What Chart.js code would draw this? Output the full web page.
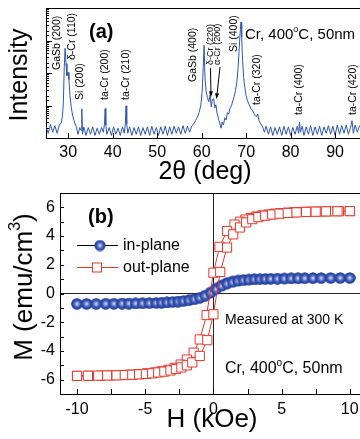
<!DOCTYPE html>
<html lang="en">
<head>
<meta charset="UTF-8">
<title>Cr, 400°C, 50nm - XRD and M-H</title>
<script src="https://cdn.jsdelivr.net/npm/chart.js"></script>
<style>
  body { margin: 0; background: #fff; }
  #wrap { position: relative; width: 360px; height: 439px; overflow: hidden; }
  canvas { position: absolute; left: 0; }
  #xrd { top: 0; }
  #mh { top: 180px; }
</style>
</head>
<body>
<div id="wrap">
  <canvas id="xrd" width="360" height="192"></canvas>
  <canvas id="mh" width="360" height="259"></canvas>
</div>

<script>
// (a) XRD pattern, 2theta (deg) vs counts (log axis)
const xrdAngle = [
  25, 25.5, 26, 26.5, 27, 27.5, 28, 28.4, 28.7, 28.9,
  29.1, 29.3, 29.5, 29.7, 29.95, 30.15, 30.4, 30.7, 31, 31.4,
  31.8, 32.2, 32.6, 32.9, 33.05, 33.2, 33.5, 34, 34.5, 35,
  35.5, 36, 36.5, 37, 37.5, 37.9, 38.15, 38.3, 38.45, 38.7,
  39.2, 39.7, 40.2, 40.7, 41.2, 41.7, 42.2, 42.6, 42.85, 43,
  43.15, 43.4, 43.8, 44.3, 44.8, 45.3, 45.8, 46.3, 46.8, 47.3,
  47.8, 48.3, 48.8, 49.3, 49.8, 50.3, 50.8, 51.3, 51.8, 52.3,
  52.8, 53.3, 53.8, 54.3, 54.8, 55.3, 55.8, 56.3, 56.8, 57.3,
  57.8, 58.2, 58.6, 59, 59.4, 59.8, 60.1, 60.35, 60.55, 60.75,
  61, 61.3, 61.6, 61.9, 62.15, 62.4, 62.7, 62.95, 63.2, 63.5,
  63.8, 64.1, 64.35, 64.6, 64.9, 65.2, 65.5, 65.8, 66.1, 66.4,
  66.7, 67, 67.3, 67.6, 67.9, 68.2, 68.45, 68.7, 68.85, 69,
  69.2, 69.45, 69.7, 70, 70.3, 70.7, 71.1, 71.5, 71.9, 72.3,
  72.6, 72.9, 73.3, 73.7, 74.1, 74.5, 75, 75.5, 76, 76.5,
  77, 77.5, 78, 78.5, 79, 79.5, 80, 80.5, 81, 81.5,
  81.8, 82, 82.2, 82.6, 83, 83.5, 84, 84.5, 85, 85.5,
  86, 86.5, 87, 87.5, 88, 88.5, 89, 89.5, 90, 90.5,
  91, 91.5, 92, 92.5, 93, 93.5, 93.8, 94.1, 94.5, 95,
  95.5
];
const xrdCounts = [
  22, 14, 26, 15, 24, 14, 25, 29, 48, 122,
  1480, 5750, 1970, 836, 1040, 628, 200, 85, 48, 31,
  22, 13, 21, 17, 79, 13, 22, 12, 21, 13,
  22, 12, 20, 13, 21, 15, 27, 80, 25, 13,
  21, 12, 22, 13, 20, 12, 22, 14, 29, 98,
  27, 14, 22, 12, 21, 13, 22, 12, 21, 13,
  22, 12, 23, 13, 21, 12, 22, 13, 23, 12,
  22, 13, 23, 14, 22, 13, 24, 14, 23, 15,
  24, 27, 34, 42, 60, 98, 248, 1480, 7130, 725,
  267, 174, 131, 215, 91, 151, 162, 85, 105, 55,
  39, 27, 20, 31, 25, 42, 36, 60, 55, 85,
  98, 140, 187, 287, 507, 1480, 6170, 22300, 36800, 12600,
  2440, 725, 355, 200, 140, 105, 80, 68, 52, 45,
  55, 34, 27, 22, 15, 23, 13, 22, 12, 21,
  13, 22, 12, 23, 13, 22, 12, 21, 13, 23,
  14, 31, 15, 23, 12, 22, 13, 24, 12, 22,
  13, 23, 12, 22, 14, 24, 13, 23, 12, 25,
  13, 24, 14, 25, 13, 22, 34, 14, 25, 15,
  24
];

// (b) M-H loops, H in kOe, M in emu/cm3 (descending branch, then ascending)
const outPlaneH = [
  10, 9.2, 8.45, 7.8, 7.1, 6.5, 5.95, 5.45, 4.95, 4.5, 4.05, 3.6, 3.15, 2.75, 2.35, 1.95, 1.55, 1.0, 0.45,
  0, -0.5, -1.0, -1.45, -1.95, -2.4, -2.85, -3.3, -3.8, -4.3, -4.85, -5.45, -6.1, -6.8, -7.5, -8.25, -9.1, -10,
  -10, -9.2, -8.45, -7.8, -7.1, -6.5, -5.95, -5.45, -4.95, -4.5, -4.05, -3.6, -3.15, -2.75, -2.35, -1.95, -1.55, -1.0, -0.45,
  0, 0.5, 1.0, 1.45, 1.95, 2.4, 2.85, 3.3, 3.8, 4.3, 4.85, 5.45, 6.1, 6.8, 7.5, 8.25, 9.1, 10
];
const outPlaneM = [
  5.74, 5.73, 5.72, 5.71, 5.7, 5.68, 5.66, 5.63, 5.6, 5.56, 5.5, 5.44, 5.36, 5.26, 5.15, 5.0, 4.8, 4.35, 3.25,
  1.45, -1.5, -3.2, -4.12, -4.6, -4.95, -5.18, -5.32, -5.42, -5.5, -5.56, -5.61, -5.65, -5.68, -5.7, -5.72, -5.73, -5.74,
  -5.74, -5.73, -5.72, -5.71, -5.7, -5.68, -5.66, -5.63, -5.6, -5.56, -5.5, -5.44, -5.36, -5.26, -5.15, -5.0, -4.8, -4.35, -3.25,
  -1.45, 1.5, 3.2, 4.12, 4.6, 4.95, 5.18, 5.32, 5.42, 5.5, 5.56, 5.61, 5.65, 5.68, 5.7, 5.72, 5.73, 5.74
];
const inPlaneH = [
  10, 9.3, 8.6, 7.9, 7.3, 6.7, 6.2, 5.7, 5.2, 4.7, 4.2, 3.8, 3.4, 3.0, 2.6, 2.2, 1.8, 1.4, 1.0, 0.6, 0.2,
  -0.2, -0.6, -1.0, -1.4, -1.8, -2.2, -2.6, -3.0, -3.4, -3.8, -4.2, -4.7, -5.2, -5.7, -6.2, -6.7, -7.3, -7.9, -8.6, -9.3, -10,
  -10, -9.3, -8.6, -7.9, -7.3, -6.7, -6.2, -5.7, -5.2, -4.7, -4.2, -3.8, -3.4, -3.0, -2.6, -2.2, -1.8, -1.4, -1.0, -0.6, -0.2,
  0.2, 0.6, 1.0, 1.4, 1.8, 2.2, 2.6, 3.0, 3.4, 3.8, 4.2, 4.7, 5.2, 5.7, 6.2, 6.7, 7.3, 7.9, 8.6, 9.3, 10
];
const inPlaneM = [
  1.08, 1.08, 1.08, 1.08, 1.07, 1.07, 1.06, 1.06, 1.05, 1.04, 1.03, 1.02, 1.01, 1.0, 0.98, 0.95, 0.91, 0.85, 0.75, 0.58, 0.35,
  0.08, -0.15, -0.3, -0.4, -0.47, -0.52, -0.56, -0.59, -0.62, -0.64, -0.66, -0.67, -0.68, -0.69, -0.7, -0.7, -0.71, -0.71, -0.72, -0.72, -0.72,
  -0.72, -0.72, -0.72, -0.71, -0.71, -0.7, -0.7, -0.69, -0.68, -0.67, -0.66, -0.64, -0.62, -0.59, -0.56, -0.52, -0.47, -0.4, -0.3, -0.15, 0.05,
  0.3, 0.52, 0.68, 0.79, 0.87, 0.92, 0.95, 0.98, 1.0, 1.01, 1.02, 1.03, 1.04, 1.05, 1.06, 1.06, 1.07, 1.07, 1.08, 1.08, 1.08
];

const FONT = "'Liberation Sans', Arial, Helvetica, sans-serif";
const BLUE = '#2f55b4';
const RED = '#e8372c';
Chart.defaults.font.family = FONT;
Chart.defaults.color = '#000';

// shaded ball used for the in-plane markers
const ball = (() => {
  const n = 12, r = 5.6;
  const c = document.createElement('canvas');
  c.width = n; c.height = n;
  const g = c.getContext('2d');
  const grad = g.createRadialGradient(n / 2, n / 2, 0, n / 2, n / 2, r);
  grad.addColorStop(0, '#f4f6ff');
  grad.addColorStop(0.3, '#7d91d6');
  grad.addColorStop(0.65, '#3553b2');
  grad.addColorStop(1, '#213b97');
  g.fillStyle = grad;
  g.beginPath(); g.arc(n / 2, n / 2, r, 0, Math.PI * 2); g.fill();
  return c;
})();

// helpers for the text drawn on top
function txt(ctx, s, x, y, size, align, weight) {
  ctx.font = (weight || '') + ' ' + size + 'px ' + FONT;
  ctx.textAlign = align || 'left';
  ctx.textBaseline = 'middle';
  ctx.fillStyle = '#000';
  ctx.fillText(s, x, y);
}
function vtxt(ctx, s, x, y, size, align) {
  ctx.save();
  ctx.translate(x, y);
  ctx.rotate(-Math.PI / 2);
  txt(ctx, s, 0, 0, size, align);
  ctx.restore();
}
// parts: [text, isSuperscript]
function supTxt(ctx, parts, x, y, size, center) {
  const sub = Math.round(size * 0.62);
  let w = 0;
  parts.forEach(([s, sup]) => { ctx.font = (sup ? sub : size) + 'px ' + FONT; w += ctx.measureText(s).width; });
  let cx = center ? x - w / 2 : x;
  parts.forEach(([s, sup]) => {
    ctx.font = (sup ? sub : size) + 'px ' + FONT;
    ctx.textAlign = 'left';
    ctx.textBaseline = 'middle';
    ctx.fillStyle = '#000';
    ctx.fillText(s, cx, sup ? y - size * 0.36 : y);
    cx += ctx.measureText(s).width;
  });
}
function arrow(ctx, x1, y1, x2, y2) {
  const a = Math.atan2(y2 - y1, x2 - x1), h = 6;
  ctx.beginPath();
  ctx.moveTo(x1, y1); ctx.lineTo(x2 - Math.cos(a) * 3, y2 - Math.sin(a) * 3);
  ctx.stroke();
  ctx.beginPath();
  ctx.moveTo(x2, y2);
  ctx.lineTo(x2 - h * Math.cos(a - 0.35), y2 - h * Math.sin(a - 0.35));
  ctx.lineTo(x2 - h * Math.cos(a + 0.35), y2 - h * Math.sin(a + 0.35));
  ctx.closePath();
  ctx.fill();
}
function frame(chart, xLen, yLen, yMajorLen, isMajorY) {
  const ctx = chart.ctx;
  const {left, right, top, bottom} = chart.chartArea;
  const xs = chart.scales.x, ys = chart.scales.y;
  ctx.save();
  ctx.strokeStyle = '#000';
  ctx.lineWidth = 1;
  ctx.beginPath();
  ctx.moveTo(left, top + 0.5); ctx.lineTo(right, top + 0.5);
  xs.ticks.forEach(t => {
    const px = Math.round(xs.getPixelForValue(t.value)) + 0.5;
    ctx.moveTo(px, bottom); ctx.lineTo(px, bottom - xLen);
  });
  ys.ticks.forEach(t => {
    const py = Math.round(ys.getPixelForValue(t.value)) + 0.5;
    ctx.moveTo(left, py); ctx.lineTo(left + (isMajorY(t.value) ? yMajorLen : yLen), py);
  });
  ctx.stroke();
  ctx.restore();
}

const xrdDecor = {
  id: 'xrdDecor',
  afterDraw(chart) {
    const ctx = chart.ctx;
    frame(chart, 5, 3, 6, v => Math.abs(Math.log10(v) - Math.round(Math.log10(v))) < 1e-9);
    ctx.save();
    // peak labels (rotated)
    vtxt(ctx, 'GaSb (200)', 57, 70, 10.5);
    vtxt(ctx, '\u03b4-Cr (110)', 72, 60, 10.5);
    vtxt(ctx, 'Si (200)', 80, 100, 10.5);
    vtxt(ctx, 'ta-Cr (200)', 105, 100, 10.5);
    vtxt(ctx, 'ta-Cr (210)', 126, 100, 10.5);
    vtxt(ctx, 'GaSb (400)', 193, 82, 10.5);
    vtxt(ctx, '\u03b4-Cr (220)', 210.5, 65, 9);
    vtxt(ctx, '\u03b1-Cr (200)', 218, 65, 9);
    vtxt(ctx, 'Si (400)', 234, 52, 10.5);
    vtxt(ctx, 'ta-Cr (320)', 257, 105, 10.5);
    vtxt(ctx, 'ta-Cr (400)', 299, 115, 10.5);
    vtxt(ctx, 'ta-Cr (420)', 353, 115, 10.5);
    ctx.strokeStyle = '#000'; ctx.fillStyle = '#000'; ctx.lineWidth = 1;
    arrow(ctx, 210.5, 68, 211, 97);
    arrow(ctx, 220, 67, 216.5, 99);
    txt(ctx, '(a)', 89, 32, 20, 'left', 'bold');
    supTxt(ctx, [['Cr, 400', false], ['o', true], ['C, 50nm', false]], 245, 35, 15);
    // axis titles
    vtxt(ctx, 'Intensity', 20, 75, 25, 'center');
    txt(ctx, '2\u03b8 (deg)', 205, 172, 25, 'center');
    ctx.restore();
  }
};

const mhDecor = {
  id: 'mhDecor',
  afterDraw(chart) {
    const ctx = chart.ctx;
    frame(chart, 5, 4, 5, () => false);
    ctx.save();
    txt(ctx, '(b)', 88, 37, 20, 'left', 'bold');
    // legend
    ctx.strokeStyle = '#000'; ctx.lineWidth = 1;
    ctx.beginPath(); ctx.moveTo(77, 65.5); ctx.lineTo(118, 65.5); ctx.stroke();
    ctx.drawImage(ball, 100 - 6, 65.5 - 6);
    ctx.strokeStyle = RED;
    ctx.beginPath(); ctx.moveTo(77, 87.5); ctx.lineTo(118, 87.5); ctx.stroke();
    ctx.fillStyle = '#fff';
    ctx.fillRect(92.5, 83, 9, 9);
    ctx.strokeRect(92.5, 83, 9, 9);
    txt(ctx, 'in-plane', 123, 66, 16);
    txt(ctx, 'out-plane', 123, 88, 16);
    txt(ctx, 'Measured at 300 K', 225, 140, 14);
    supTxt(ctx, [['Cr, 400', false], ['o', true], ['C, 50nm', false]], 225, 189, 16);
    // axis titles
    ctx.save();
    ctx.translate(25, 107);
    ctx.rotate(-Math.PI / 2);
    supTxt(ctx, [['M (emu/cm', false], ['3', true], [')', false]], 0, 0, 26, true);
    ctx.restore();
    txt(ctx, 'H (kOe)', 212, 240, 26, 'center');
    ctx.restore();
  }
};

// (a) XRD
new Chart(document.getElementById('xrd'), {
  type: 'scatter',
  data: {
    datasets: [{
      data: xrdAngle.map((a, i) => ({x: a, y: xrdCounts[i]})),
      showLine: true,
      borderColor: BLUE,
      borderWidth: 1,
      pointRadius: 0,
      tension: 0
    }]
  },
  options: {
    responsive: false,
    animation: false,
    layout: { autoPadding: false, padding: { top: 8, right: 0, left: 0, bottom: 0 } },
    plugins: { legend: { display: false }, tooltip: { enabled: false } },
    scales: {
      x: {
        type: 'linear', min: 25, max: 95.6,
        afterFit: s => { s.height = 54; s.paddingLeft = 0; s.paddingRight = 0; },
        grid: { display: false, drawTicks: false },
        border: { display: true, color: '#000', width: 1 },
        ticks: { stepSize: 10, includeBounds: false, padding: 5, maxRotation: 0, font: { size: 16 }, color: '#000' }
      },
      y: {
        type: 'logarithmic', min: 10, max: 100000,
        afterFit: s => { s.width = 46; s.paddingTop = 0; s.paddingBottom = 0; },
        grid: { display: false, drawTicks: false },
        border: { display: true, color: '#000', width: 1 },
        ticks: { display: false }
      }
    }
  },
  plugins: [xrdDecor]
});

// (b) M-H
new Chart(document.getElementById('mh'), {
  type: 'scatter',
  data: {
    datasets: [{
      label: 'out-plane',
      data: outPlaneH.map((h, i) => ({x: h, y: outPlaneM[i]})),
      showLine: true,
      borderColor: RED,
      borderWidth: 1,
      pointStyle: 'rect',
      pointRadius: 6.5,
      pointBorderColor: RED,
      pointBackgroundColor: '#fff',
      pointBorderWidth: 1
    }, {
      label: 'in-plane',
      data: inPlaneH.map((h, i) => ({x: h, y: inPlaneM[i]})),
      showLine: true,
      borderColor: '#1b2c6e',
      borderWidth: 1,
      pointStyle: ball,
      pointRadius: 5.5
    }]
  },
  options: {
    responsive: false,
    animation: false,
    layout: { autoPadding: false, padding: { top: 13, right: 0, left: 0, bottom: 0 } },
    plugins: { legend: { display: false }, tooltip: { enabled: false } },
    scales: {
      x: {
        type: 'linear', min: -11.25, max: 10.75,
        afterFit: s => { s.height = 45; s.paddingLeft = 0; s.paddingRight = 0; },
        grid: { drawTicks: false, color: c => (c.tick && c.tick.value === 0 ? '#222' : 'rgba(0,0,0,0)') },
        border: { display: true, color: '#000', width: 1 },
        ticks: {
          stepSize: 2.5, includeBounds: false, padding: 6, maxRotation: 0, autoSkip: false,
          font: { size: 16 }, color: '#000',
          callback: v => (v % 5 === 0 ? v : '')
        }
      },
      y: {
        type: 'linear', min: -7, max: 7,
        afterFit: s => { s.width = 60; s.paddingTop = 0; s.paddingBottom = 0; },
        grid: { drawTicks: false, color: c => (c.tick && c.tick.value === 0 ? '#222' : 'rgba(0,0,0,0)') },
        border: { display: true, color: '#000', width: 1 },
        ticks: {
          stepSize: 1, padding: 5, autoSkip: false,
          font: { size: 16 }, color: '#000',
          callback: v => (v % 2 === 0 ? v : '')
        }
      }
    }
  },
  plugins: [mhDecor]
});
</script>
</body>
</html>
